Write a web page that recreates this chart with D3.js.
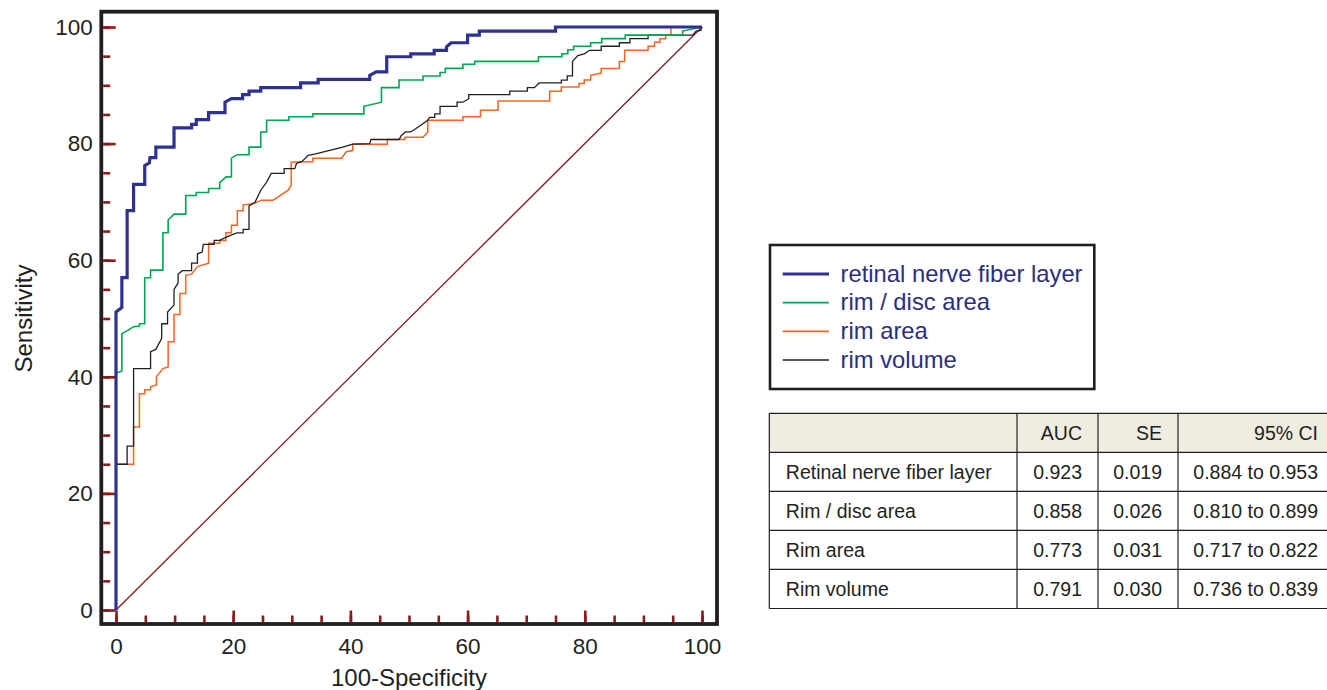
<!DOCTYPE html>
<html lang="en">
<meta charset="UTF-8">
<title>ROC curves</title>
<style>
body {margin:0; background:#fff; font-family:"Liberation Sans", Arial, sans-serif;}
svg text {fill:#231f20;}
</style>
<body>
<div id="chart"></div>
<script src="https://d3js.org/d3.v7.min.js"></script>
<script>
// ROC points [100-specificity, sensitivity]
var rnflCurve = [[0,0],[0,51.1],[1,51.9],[1,57],[1.9,57],[1.9,68.5],[3,68.5],[3,73],[4.9,73],[4.9,76.2],
  [5.7,76.7],[5.8,77.6],[6.8,77.6],[6.8,79.4],[9.9,79.4],[9.9,82.7],[12.9,82.7],[12.9,83.3],[13.7,83.3],
  [13.7,84.1],[15.8,84.1],[15.8,85.3],[18.6,85.3],[18.6,87.1],[19.7,87.7],[21.6,87.7],[21.6,88.4],
  [22.7,88.4],[22.7,89],[24.7,89],[24.7,89.6],[31.5,89.6],[31.5,90.4],[34.5,90.4],[34.5,91],[43.3,91],
  [43.3,91.7],[44.4,92.3],[46.2,92.3],[46.2,94.9],[50.3,94.9],[50.3,95.4],[54.3,95.4],[54.3,96],
  [56.4,96],[56.4,96.6],[57.2,97.3],[60,97.3],[60,98.6],[62,98.6],[62,99.3],[75,99.3],[75,100],[100,100]];

var rimDiscCurve = [[0,0],[0,40.6],[1,41],[1,47.4],[2.1,48],[3,48.6],[4,48.7],[4,49.1],[4.9,49.1],[4.9,57],
  [5.9,57],[5.9,58.3],[8,58.3],[8,64.7],[8.9,64.7],[8.9,66.9],[9.9,67.9],[11.9,67.9],[11.9,71.1],[13.7,71.1],
  [13.7,71.6],[15.8,71.6],[15.8,72.3],[17.7,72.3],[17.7,73.3],[18.8,74.3],[19.7,74.3],[19.7,77.5],
  [20.7,78.1],[22.7,78.1],[22.7,79.4],[24.7,79.4],[24.7,82],[25.7,82],[25.7,84],[29.5,84],[29.5,84.6],
  [33.6,84.6],[33.6,85.1],[42.3,85.1],[42.3,86.4],[45.3,87.1],[45.3,89.6],[48.3,89.6],[48.3,90.9],
  [52.4,90.9],[52.4,91.6],[55.3,91.6],[55.3,92.2],[56.2,92.2],[56.2,92.9],[59.2,92.9],[59.2,93.6],
  [61.2,93.6],[61.2,94.1],[72.1,94.1],[72.1,94.9],[76.1,94.9],[76.1,95.4],[77.1,95.4],[77.1,96.1],
  [78.1,96.1],[78.1,96.7],[81,96.7],[81,97.3],[82.9,97.3],[82.9,98],[86.9,98],[86.9,98.6],[96.7,98.6],
  [96.7,99.3],[100,100]];

var rimAreaCurve = [[0,0],[0,25],[3,25],[3,31.4],[4,31.4],[4,37.1],[4.9,37.1],[4.9,37.8],[5.9,37.8],
  [5.9,38.3],[6.9,38.6],[6.9,40],[8,41.4],[8.9,41.7],[8.9,46],[9.9,46],[9.9,50.7],[10.9,50.7],[10.9,54.3],
  [11.9,54.3],[11.9,57.4],[12.9,57.6],[13.9,58.9],[15.8,59.5],[15.8,62.9],[17.7,62.9],[17.7,63.4],
  [18.75,63.4],[18.75,64.7],[19.7,64.7],[19.7,66],[20.7,66],[20.7,68.5],[21.7,68.5],[21.7,69.5],
  [22.7,69.6],[23.7,69.8],[24.8,70.3],[26.8,70.3],[29.4,72],[29.9,72.9],[29.9,76.8],[31.7,76.9],
  [33.6,76.9],[33.6,77.5],[38.5,77.5],[39.3,78.6],[40.4,78.8],[40.4,79.9],[46.3,79.9],[46.3,80.7],
  [49.3,80.7],[49.3,81.1],[52.4,81.1],[53.2,82],[53.2,84],[59.2,84],[59.2,84.6],[62.2,84.6],[62.2,85.7],
  [65.2,85.7],[65.2,87.3],[74,87.3],[74,89],[76,89],[76,89.7],[79,89.7],[79,90.3],[79.9,90.3],[79.9,90.9],
  [81,90.9],[81,91.7],[82.8,92.1],[82.8,92.9],[85.9,92.9],[85.9,94.1],[86.8,94.1],[86.8,96],[90.8,96],
  [90.8,96.7],[91.9,96.7],[91.9,97.4],[92.8,97.4],[92.8,98],[93.8,98],[93.8,98.6],[94.7,98.6],[94.7,100],
  [100,100]];

var rimVolumeCurve = [[0,0],[0,25],[1.9,25],[1.9,28.1],[3,28.1],[3,41.4],[5.9,41.4],[5.9,44.3],[6.8,44.7],
  [7.8,46.6],[7.8,49.1],[8.8,49.1],[8.8,51.1],[9.9,52.3],[9.9,55],[10.6,56.1],[10.6,57.6],[11.3,58.2],
  [12.9,58.2],[12.9,59.5],[13.9,59.5],[13.9,61.1],[14.7,61.4],[14.9,62.7],[16.75,62.7],[16.75,63.4],
  [17.7,63.4],[18.9,64],[20.6,64.7],[21.7,64.7],[21.7,65.3],[22.7,65.3],[22.7,69.3],[23.7,69.9],
  [24.7,72],[25.7,73.4],[26.5,74.9],[28.7,74.9],[28.7,75.7],[30.5,75.7],[30.8,76.6],[31.7,76.9],
  [32.8,78],[33.9,78.2],[38.7,79.4],[40.4,79.9],[43.3,80],[43.5,80.7],[48.3,80.7],[48.7,81.4],[49.4,82],
  [50.3,82],[51.2,82.6],[53.2,84],[53.5,84.5],[54.4,84.5],[54.4,85.1],[55.3,85.1],[55.3,86.4],[58.2,86.4],
  [58.2,87.1],[59.2,87.1],[60.2,87.7],[60.2,88.4],[67.2,88.4],[67.2,89],[70.2,89],[70.2,89.6],[71.4,89.6],
  [72.2,90.4],[76,90.4],[76,90.9],[77,90.9],[77,91.6],[77.9,91.6],[77.9,94.1],[78.8,95.1],[79.9,95.4],
  [80.8,96],[82.8,96],[82.8,96.7],[85.9,96.7],[85.9,97.3],[87.7,97.3],[87.7,98],[90.8,98],[90.8,98.6],
  [98.4,98.6],[99,99.3],[99.8,99.4],[100,100]];

var chanceLine = [[0,0],[100,100]];

// legend
var seriesNames = ["retinal nerve fiber layer", "rim / disc area", "rim area", "rim volume"];

// table
var tableHeader = ["", "AUC", "SE", "95% CI"];
var rowNames = ["Retinal nerve fiber layer", "Rim / disc area", "Rim area", "Rim volume"];
var aucValues = ["0.923", "0.858", "0.773", "0.791"];
var seValues = ["0.019", "0.026", "0.031", "0.030"];
var ciValues = ["0.884 to 0.953", "0.810 to 0.899", "0.717 to 0.822", "0.736 to 0.839"];

var majorTicks = [0, 20, 40, 60, 80, 100];
var minorTicks = d3.range(0, 101, 5);

var curves = [rnflCurve, rimDiscCurve, rimAreaCurve, rimVolumeCurve];
var colors = ["#2e3192", "#00a651", "#f26522", "#231f20"];
var widths = [3.2, 1.6, 1.5, 1.3];
var tickColor = "#8b1a1a";

var svg = d3.select("#chart").append("svg")
  .attr("width", 1327)
  .attr("height", 690);

var x = d3.scaleLinear().domain([0, 100]).range([116, 702]);
var y = d3.scaleLinear().domain([0, 100]).range([610, 27]);

// frame
svg.append("rect")
  .attr("x", 101.3).attr("y", 11.7)
  .attr("width", 615.7).attr("height", 612.3)
  .attr("fill", "none")
  .attr("stroke", "#231f20")
  .attr("stroke-width", 3.8);

// y axis (ticks point inward)
var yMinor = svg.append("g")
  .attr("transform", "translate(103.2,0)")
  .call(d3.axisLeft(y).tickValues(minorTicks).tickSize(-7).tickFormat(""));
var yMajor = svg.append("g")
  .attr("transform", "translate(103.2,0)")
  .call(d3.axisLeft(y).tickValues(majorTicks).tickSize(-12.5).tickPadding(10.5));

// x axis
var xMinor = svg.append("g")
  .attr("transform", "translate(0,622)")
  .call(d3.axisBottom(x).tickValues(minorTicks).tickSize(-6.5).tickFormat(""));
var xMajor = svg.append("g")
  .attr("transform", "translate(0,622)")
  .call(d3.axisBottom(x).tickValues(majorTicks).tickSize(-11.5).tickPadding(16));

[yMinor, yMajor, xMinor, xMajor].forEach(function(g) {
  g.select(".domain").remove();
  g.selectAll("line").attr("stroke", tickColor).attr("stroke-width", 2.6);
  g.selectAll("text")
    .attr("fill", "#231f20")
    .style("font-family", "'Liberation Sans', Arial, sans-serif")
    .style("font-size", "22.5px");
});

// axis titles
svg.append("text")
  .attr("x", (x(0) + x(100)) / 2)
  .attr("y", 685.5)
  .attr("text-anchor", "middle")
  .style("font-size", "24px")
  .text("100-Specificity");

svg.append("text")
  .attr("transform", "translate(32," + ((y(0) + y(100)) / 2) + ") rotate(-90)")
  .attr("text-anchor", "middle")
  .style("font-size", "24px")
  .text("Sensitivity");

// diagonal and curves
var line = d3.line()
  .x(function(d) { return x(d[0]); })
  .y(function(d) { return y(d[1]); });

svg.append("path")
  .datum(chanceLine)
  .attr("d", line)
  .attr("fill", "none")
  .attr("stroke", tickColor)
  .attr("stroke-width", 1.3);

var drawOrder = [2, 3, 1, 0];
svg.selectAll("path.roc")
  .data(drawOrder)
  .enter().append("path")
    .attr("class", "roc")
    .attr("d", function(i) { return line(curves[i]); })
    .attr("fill", "none")
    .attr("stroke", function(i) { return colors[i]; })
    .attr("stroke-width", function(i) { return widths[i]; })
    .attr("stroke-linejoin", "miter");

// legend
var legend = svg.append("g");
legend.append("rect")
  .attr("x", 770).attr("y", 245)
  .attr("width", 324.3).attr("height", 144)
  .attr("fill", "#fff")
  .attr("stroke", "#231f20")
  .attr("stroke-width", 2.6);

var legY = d3.scalePoint().domain(seriesNames).range([274, 360]);
legend.selectAll("line.leg")
  .data(seriesNames)
  .enter().append("line")
    .attr("x1", 782.7).attr("x2", 829)
    .attr("y1", function(d) { return legY(d); })
    .attr("y2", function(d) { return legY(d); })
    .attr("stroke", function(d, i) { return colors[i]; })
    .attr("stroke-width", function(d, i) { return i == 0 ? 3 : 1.6; });
legend.selectAll("text")
  .data(seriesNames)
  .enter().append("text")
    .attr("x", 840.5)
    .attr("y", function(d) { return legY(d) + 7.5; })
    .style("font-size", "23.8px")
    .style("fill", "#2b2e7e")
    .text(function(d) { return d; });

// table (right edge runs past the page, as in the source)
var colEdges = [769.3, 1017, 1098, 1178, 1334];
var rowY = d3.scaleBand().domain(d3.range(5)).range([413.3, 608.5]);
var table = svg.append("g");

table.append("rect")
  .attr("x", colEdges[0]).attr("y", rowY(0))
  .attr("width", colEdges[4] - colEdges[0]).attr("height", rowY.bandwidth())
  .attr("fill", "#efede2");

table.selectAll("line.h")
  .data(d3.range(6))
  .enter().append("line")
    .attr("x1", colEdges[0]).attr("x2", colEdges[4])
    .attr("y1", function(i) { return rowY.range()[0] + i * rowY.step(); })
    .attr("y2", function(i) { return rowY.range()[0] + i * rowY.step(); })
    .attr("stroke", "#231f20").attr("stroke-width", 1.2);

table.selectAll("line.v")
  .data(colEdges)
  .enter().append("line")
    .attr("x1", function(d) { return d; }).attr("x2", function(d) { return d; })
    .attr("y1", rowY.range()[0]).attr("y2", rowY.range()[1])
    .attr("stroke", "#231f20").attr("stroke-width", 1.2);

var cells = [];
tableHeader.forEach(function(t, c) { cells.push({r: 0, c: c, t: t}); });
rowNames.forEach(function(n, i) {
  cells.push({r: i + 1, c: 0, t: n});
  cells.push({r: i + 1, c: 1, t: aucValues[i]});
  cells.push({r: i + 1, c: 2, t: seValues[i]});
  cells.push({r: i + 1, c: 3, t: ciValues[i]});
});

table.selectAll("text")
  .data(cells)
  .enter().append("text")
    .attr("x", function(d) { return d.c == 0 ? colEdges[0] + 16.5 : colEdges[d.c + 1] - 16; })
    .attr("y", function(d) { return rowY(d.r) + rowY.bandwidth() / 2 + 7.2; })
    .attr("text-anchor", function(d) { return d.c == 0 ? "start" : "end"; })
    .style("font-size", "19.5px")
    .text(function(d) { return d.t; });
</script>
</body>
</html>
